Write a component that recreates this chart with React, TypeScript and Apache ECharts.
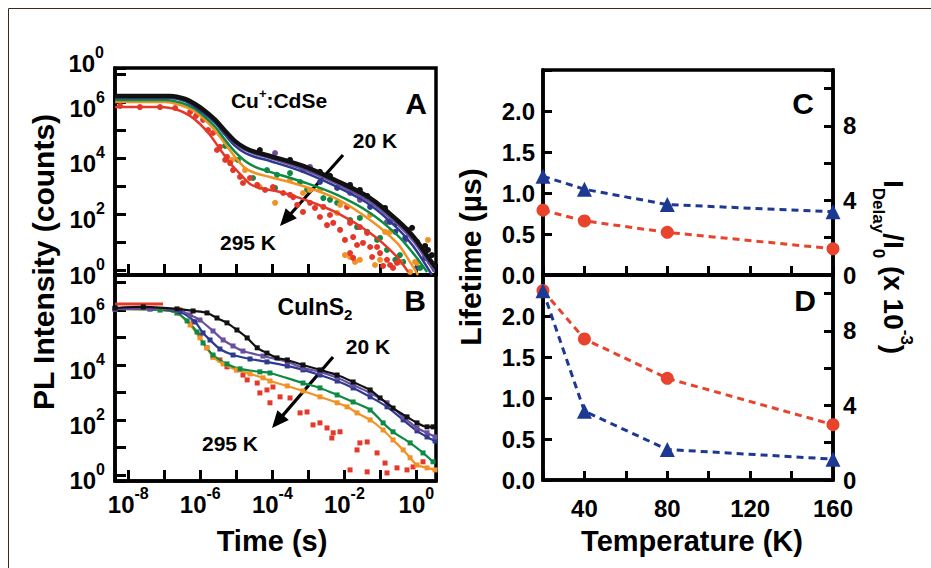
import React, { useEffect, useRef } from 'react';
import * as echarts from 'echarts';

const FONT = '"Liberation Sans", Arial, Helvetica, sans-serif';

// ---------- Panel A: Cu+:CdSe PL decays (time s, counts) ----------
const aFitBlack = [[4.3e-9,1.64e6],[1.44e-7,1.64e6],[3.8e-7,1.28e6],[7.1e-7,8.5e5],[1.35e-6,4.8e5],[2.6e-6,2.3e5],[4.9e-6,9.2e4],[9.2e-6,4.0e4],[1.75e-5,2.3e4],[3.3e-5,1.64e4],[8.6e-5,1.18e4],[7.1e-4,5.2e3],[6.3e-3,1.51e3],[5.2e-2,3.7e2],[0.29,61],[0.81,16],[2.4,2.3],[3.5,1.18]];
const aFitPurple = [[4.3e-9,1.51e6],[1.44e-7,1.51e6],[3.8e-7,1.18e6],[7.1e-7,7.8e5],[1.35e-6,4.4e5],[2.6e-6,2.1e5],[4.9e-6,7.8e4],[9.2e-6,3.4e4],[1.75e-5,1.93e4],[3.3e-5,1.39e4],[8.6e-5,1.0e4],[7.1e-4,4.0e3],[6.3e-3,1.18e3],[5.2e-2,2.7e2],[0.29,44],[0.81,11],[2.4,1.5],[3.1,0.85]];
const aFitBlue = [[4.3e-9,1.39e6],[1.44e-7,1.39e6],[3.8e-7,1.09e6],[7.1e-7,6.6e5],[1.35e-6,3.7e5],[2.6e-6,1.78e5],[4.9e-6,6.6e4],[9.2e-6,2.7e4],[1.75e-5,1.51e4],[3.3e-5,1.09e4],[8.6e-5,7.8e3],[7.1e-4,3.2e3],[6.3e-3,9.2e2],[5.2e-2,2.1e2],[0.29,32],[0.81,7.2],[2.7,0.66]];
const aFitGreen = [[4.3e-9,1.18e6],[1.05e-7,1.18e6],[3.1e-7,9.2e5],[6.3e-7,6.1e5],[1.35e-6,2.9e5],[2.6e-6,1.28e5],[4.9e-6,4.4e4],[9.2e-6,1.64e4],[1.75e-5,7.8e3],[3.3e-5,4.8e3],[8.6e-5,3.2e3],[7.1e-4,1.39e3],[6.3e-3,4.8e2],[5.2e-2,1.09e2],[0.29,18],[0.81,4.0],[1.98,0.85]];
const aFitOrange = [[4.3e-9,1.0e6],[1.05e-7,1.0e6],[2.7e-7,7.8e5],[5.9e-7,5.2e5],[1.35e-6,2.3e5],[2.6e-6,9.2e4],[4.9e-6,3.2e4],[9.2e-6,1.09e4],[1.75e-5,4.4e3],[3.3e-5,2.9e3],[8.6e-5,2.1e3],[7.1e-4,1.0e3],[6.3e-3,3.4e2],[5.2e-2,61],[0.29,9.2],[0.67,1.9],[1.11,0.66]];
const aFitRed = [[4.3e-9,6.6e5],[7.6e-8,6.6e5],[2.4e-7,5.2e5],[5.2e-7,3.2e5],[9.8e-7,1.64e5],[1.86e-6,6.6e4],[3.5e-6,2.1e4],[6.7e-6,6.6e3],[1.27e-5,2.7e3],[2.4e-5,1.18e3],[4.5e-5,8.5e2],[1.64e-4,6.1e2],[7.1e-4,3.4e2],[6.3e-3,1.09e2],[5.2e-2,21],[0.26,3.4],[0.59,0.85]];

const aDotsRed = [[5.9e-9,7.2e5],[2.1e-8,6.6e5],[7.6e-8,6.6e5],[2.0e-7,6.1e5],[5.2e-7,4.4e5],[7.6e-7,3.2e5],[1.19e-6,2.3e5],[1.64e-6,1.0e5],[2.25e-6,7.8e4],[2.9e-6,1.93e4],[3.5e-6,2.5e4],[4.9e-6,8.5e3],[5.5e-6,1.09e4],[6.7e-6,6.6e3],[8.1e-6,3.7e3],[1.27e-5,2.1e3],[1.53e-5,1.28e3],[2.4e-5,1.93e3],[3.8e-5,1.09e3],[6.3e-5,7.2e2],[1.04e-4,9.2e2],[2.0e-4,5.6e2],[3.1e-4,4.8e2],[3.8e-4,4.0e2],[4.9e-4,2.1e2],[7.1e-4,1.18e2],[1.11e-3,2.5e2],[1.53e-3,1.64e2],[2.1e-3,78],[2.6e-3,1.78e2],[3.3e-3,40],[4.0e-3,92],[4.9e-3,48],[7.6e-3,27],[1.04e-2,11.8],[1.19e-2,1.78e2],[1.44e-2,48],[1.44e-2,4.0],[1.75e-2,15],[1.75e-2,2.7],[2.25e-2,7.8],[2.7e-2,34],[3.3e-2,9.2],[4.3e-2,21],[5.2e-2,6.6],[5.9e-2,2.9],[8.1e-2,6.6],[9.8e-2,4.0],[0.119,1.39],[0.153,2.3],[0.186,1.5],[0.225,1.18],[0.29,1.78]];
const aDotsOrange = [[7.6e-6,8.5e3],[1.75e-5,3.7e3],[4.5e-5,9.2e2],[1.19e-4,2.5e2],[3.1e-4,1.64e3],[7.1e-4,5.6e2],[1.11e-3,7.2e2],[2.1e-3,7.2e2],[6.3e-3,1.09e2],[7.6e-3,2.1e2],[1.04e-2,3.4],[1.44e-2,2.9],[1.98e-2,1.93],[2.7e-2,2.3],[5.2e-2,92],[7.1e-2,1.5],[9.8e-2,2.3],[0.135,23],[0.186,23],[0.35,1.93],[0.67,0.85],[0.92,1.93],[1.04,1.78],[2.1,11.8]];
const aDotsGreen = [[4.9e-6,2.7e4],[1.11e-5,8.5e3],[2.9e-5,1.93e3],[7.1e-5,3.7e3],[1.19e-4,8.5e2],[1.35e-4,2.5e3],[3.1e-4,2.9e3],[5.9e-4,1.39e3],[9.2e-4,7.2e2],[2.6e-3,3.7e2],[4.0e-3,3.2e2],[6.3e-3,2.5e2],[1.44e-2,61],[2.25e-2,34],[2.7e-2,72],[4.3e-2,23],[8.1e-2,11.8],[9.8e-2,13.9],[0.153,5.2],[0.26,2.3],[0.35,3.4],[0.43,1.93],[1.27,1.18]];
const aDotsBlue = [[7.1e-4,3.7e3],[2.1e-3,1.39e3],[6.3e-3,8.5e2],[5.2e-2,1.78e2],[0.186,52],[0.26,23],[0.49,13.9],[1.04,1.18],[1.75,2.7]];
const aDotsPurple = [[1.19e-4,1.51e4],[1.11e-3,4.8e3],[1.44e-2,5.6e2],[2.7e-2,3.2e2],[0.153,52],[0.49,11.8],[1.75,3.4],[2.4,1.93]];
const aDotsBlack = [[4.5e-5,1.93e4],[3.1e-4,8.5e3],[2.1e-3,3.2e3],[4.0e-3,2.3e3],[1.44e-2,1.09e3],[2.7e-2,7.2e2],[4.3e-2,4.4e2],[0.135,1.64e2],[0.29,48],[0.55,27],[0.76,32],[1.04,10],[1.75,7.2],[2.1,5.2],[2.7,3.4]];

// ---------- Panel B: CuInS2 PL decays ----------
const bBlack = [[4.3e-9,1.18e6],[2.6e-8,1.29e6],[2.25e-7,1.09e6],[6.3e-7,9.2e5],[1.53e-6,7.8e5],[2.9e-6,5.1e5],[5.5e-6,3.4e5],[1.04e-5,1.87e5],[2.0e-5,9.6e4],[3.8e-5,4.2e4],[7.1e-5,2.7e4],[1.35e-4,1.8e4],[2.6e-4,1.52e4],[7.1e-4,1.0e4],[2.1e-3,6.6e3],[6.3e-3,4.3e3],[1.75e-2,2.4e3],[5.2e-2,1.23e3],[9.8e-2,6.3e2],[0.225,2.7e2],[0.55,1.29e2],[1.04,78],[1.98,56],[2.9,56]];
const bPurple = [[4.3e-9,1.09e6],[4.0e-8,1.09e6],[2.25e-7,1.0e6],[5.2e-7,6.6e5],[9.8e-7,4.3e5],[2.25e-6,1.72e5],[4.3e-6,8.1e4],[8.1e-6,4.9e4],[1.53e-5,3.2e4],[5.5e-5,2.1e4],[2.6e-4,1.29e4],[7.1e-4,7.8e3],[2.1e-3,5.6e3],[6.3e-3,3.4e3],[1.75e-2,1.87e3],[5.2e-2,9.6e2],[0.153,4.2e2],[0.43,1.29e2],[1.04,51],[1.98,34],[3.3,24]];
const bBlue = [[4.3e-9,1.09e6],[4.0e-8,1.09e6],[2.7e-7,8.5e5],[7.1e-7,3.7e5],[1.19e-6,1.46e5],[1.86e-6,8.1e4],[3.5e-6,3.8e4],[8.1e-6,2.3e4],[2.4e-5,1.65e4],[7.1e-5,1.29e4],[2.6e-4,9.2e3],[7.1e-4,6.6e3],[2.1e-3,4.3e3],[6.3e-3,2.6e3],[1.75e-2,1.46e3],[5.2e-2,6.9e2],[0.153,3.0e2],[0.43,1.0e2],[1.04,40],[1.98,24],[3.3,17.2]];
const bGreen = [[4.3e-9,1.09e6],[7.6e-8,1.0e6],[2.25e-7,7.8e5],[4.3e-7,4.0e5],[8.1e-7,1.58e5],[1.19e-6,6.3e4],[2.25e-6,2.3e4],[5.5e-6,1.09e4],[1.27e-5,7.2e3],[4.5e-5,5.6e3],[8.6e-5,5.1e3],[7.1e-4,2.2e3],[2.1e-3,1.46e3],[6.3e-3,8.1e2],[1.75e-2,4.5e2],[5.2e-2,2.3e2],[0.119,78],[0.225,37],[0.67,14.6],[1.53,6.3],[2.9,3.0]];
const bOrange = [[4.3e-9,1.09e6],[7.6e-8,1.0e6],[2.25e-7,7.8e5],[5.2e-7,2.85e5],[9.8e-7,9.6e4],[1.53e-6,4.2e4],[2.25e-6,1.95e4],[4.3e-6,1.09e4],[1.04e-5,6.6e3],[2.4e-5,4.7e3],[5.5e-5,3.4e3],[8.6e-5,2.6e3],[2.6e-4,1.72e3],[7.1e-4,1.13e3],[2.1e-3,6.9e2],[6.3e-3,4.2e2],[1.19e-2,3.0e2],[2.25e-2,1.8e2],[5.2e-2,1.0e2],[0.119,43],[0.225,18.7],[0.43,8.1],[0.67,4.2],[1.04,2.3],[1.98,1.8],[3.3,1.52]];
const bRedPlateau = [[4.3e-9,1.65e6],[2.1e-8,1.65e6],[9.2e-8,1.65e6]];
const bRedDots = [[2.7e-7,1.0e6],[6.3e-7,3.7e5],[9.8e-7,1.23e5],[1.53e-6,4.2e4],[2.25e-6,1.95e4],[3.5e-6,1.52e4],[5.5e-6,8.5e3],[1.04e-5,6.6e3],[1.53e-5,4.3e3],[2.0e-5,2.85e3],[3.8e-5,2.2e3],[7.1e-5,1.23e3],[4.5e-5,9.6e2],[8.6e-5,4.2e2],[1.04e-4,1.58e3],[1.64e-4,6.9e2],[3.1e-4,6.3e2],[5.9e-4,1.8e2],[9.2e-4,1.95e2],[1.35e-3,66],[2.1e-3,78],[3.3e-3,51],[4.9e-3,34],[7.6e-3,37],[4.5e-3,22],[2.7e-2,14.6],[4.3e-2,15.8],[8.1e-2,6.3],[2.25e-2,8.1],[0.135,2.7],[0.29,1.8],[1.44e-2,1.52],[4.3e-2,1.29],[0.153,1.18],[0.55,1.52],[0.81,1.95],[1.53,3.0]];

// ---------- Panels C & D ----------
const temperatures = [20, 40, 80, 160];
const lifetimeCdSe = [0.79, 0.66, 0.52, 0.32];
const delayRatioCdSe = [5.3, 4.6, 3.78, 3.39];
const lifetimeCuInS2 = [2.31, 1.72, 1.24, 0.675];
const delayRatioCuInS2 = [10.15, 3.69, 1.64, 1.12];

const timeRange = [4.27e-9, 3.51];
const aCountRange = [0.66, 1.64e7];
const bCountRange = [0.6, 1.87e7];

const C = {
  black: '#111111', purple: '#6a4fa0', blue: '#2c3a8f', green: '#0d8a45', orange: '#f39224', red: '#e3382a',
  cdRed: '#e8432d', cdBlue: '#1d3893',
};

const expRich = {
  b: { fontSize: 24, fontWeight: 'bold', fontFamily: FONT, color: '#000', lineHeight: 26, padding: [7, 0, 0, 0], verticalAlign: 'top' },
  s: { fontSize: 16, fontWeight: 'bold', fontFamily: FONT, color: '#000', lineHeight: 17, verticalAlign: 'top' },
};

const expFmt = (v: number) => {
  const e = Math.log10(v);
  const n = Math.round(e);
  if (Math.abs(e - n) > 0.02 || n % 2 !== 0) return '';
  return `{b|10}{s|${n}}`;
};

const lineAx = { show: true, onZero: false, lineStyle: { color: '#000', width: 3.5 } };
const tick = (len: number) => ({ show: true, inside: true, length: len, lineStyle: { color: '#000', width: 3 } });
const plainLabel = { fontSize: 24, fontWeight: 'bold', fontFamily: FONT, color: '#000' };

function buildOption() {
  const grids = [
    { left: 115, top: 68, width: 321, height: 207 },
    { left: 115, top: 275, width: 321, height: 206 },
    { left: 543, top: 70, width: 290, height: 205 },
    { left: 543, top: 275, width: 290, height: 205 },
  ].map((g) => ({ ...g, show: true, borderColor: '#000', borderWidth: 3.5, backgroundColor: 'transparent', outerBoundsMode: 'none', containLabel: false }));

  const xAxis = [
    { type: 'log', gridIndex: 0, min: timeRange[0], max: timeRange[1], axisLine: lineAx, axisTick: tick(11), axisLabel: { show: false }, splitLine: { show: false }, minorTick: { show: false } },
    { type: 'log', gridIndex: 1, min: timeRange[0], max: timeRange[1], axisLine: lineAx, axisTick: tick(11), axisLabel: { show: true, margin: 4, formatter: expFmt, rich: expRich }, splitLine: { show: false } },
    { type: 'value', gridIndex: 2, min: 20, max: 160, interval: 20, axisLine: lineAx, axisTick: tick(9), axisLabel: { show: false }, splitLine: { show: false } },
    { type: 'value', gridIndex: 3, min: 20, max: 160, interval: 20, axisLine: lineAx, axisTick: tick(9), axisLabel: { ...plainLabel, margin: 16, formatter: (v: number) => (v % 40 === 0 ? String(v) : '') }, splitLine: { show: false } },
  ];

  const leftFmt = (v: number) => (v > 2.49 ? '' : v.toFixed(1));
  const rightFmt = (v: number) => (v % 4 === 0 && v <= 8 ? String(v) : '');
  const yAxis = [
    { type: 'log', gridIndex: 0, min: aCountRange[0], max: aCountRange[1], axisLine: lineAx, axisTick: tick(11), axisLabel: { margin: 10, formatter: expFmt, rich: expRich }, splitLine: { show: false } },
    { type: 'log', gridIndex: 1, min: bCountRange[0], max: bCountRange[1], axisLine: lineAx, axisTick: tick(11), axisLabel: { margin: 10, formatter: expFmt, rich: expRich }, splitLine: { show: false } },
    { type: 'value', gridIndex: 2, position: 'left', min: 0, max: 2.5, interval: 0.5, axisLine: lineAx, axisTick: tick(9), axisLabel: { ...plainLabel, margin: 8, formatter: leftFmt }, splitLine: { show: false } },
    { type: 'value', gridIndex: 2, position: 'right', min: 0, max: 11, interval: 2, axisLine: lineAx, axisTick: tick(9), axisLabel: { ...plainLabel, margin: 10, formatter: rightFmt }, splitLine: { show: false } },
    { type: 'value', gridIndex: 3, position: 'left', min: 0, max: 2.5, interval: 0.5, axisLine: lineAx, axisTick: tick(9), axisLabel: { ...plainLabel, margin: 8, formatter: leftFmt }, splitLine: { show: false } },
    { type: 'value', gridIndex: 3, position: 'right', min: 0, max: 11, interval: 2, axisLine: lineAx, axisTick: tick(9), axisLabel: { ...plainLabel, margin: 10, formatter: rightFmt }, splitLine: { show: false } },
  ];

  const dots = (data: number[][], color: string) => ({
    type: 'scatter', xAxisIndex: 0, yAxisIndex: 0, data, symbol: 'circle', symbolSize: 6, itemStyle: { color, opacity: 1 }, z: 2, silent: true,
  });
  const fit = (data: number[][], color: string, width = 2.5, z = 3) => ({
    type: 'line', xAxisIndex: 0, yAxisIndex: 0, data, smooth: 0.35, symbol: 'none', lineStyle: { color, width }, z, silent: true,
  });
  const bandB = (data: number[][], color: string, z = 3) => ({
    type: 'line', xAxisIndex: 1, yAxisIndex: 1, data, smooth: 0.3, symbol: 'rect', symbolSize: 5, showSymbol: true,
    itemStyle: { color, opacity: 1 }, lineStyle: { color, width: 2.2 }, z, silent: true,
  });
  const pair = (temps: number[], vals: number[]) => temps.map((t, i) => [t, vals[i]]);
  const dashed = (data: number[][], color: string, x: number, y: number, symbol: string, size: number) => ({
    type: 'line', xAxisIndex: x, yAxisIndex: y, data, symbol, symbolSize: size, showSymbol: true,
    itemStyle: { color, opacity: 1 }, lineStyle: { color, width: 3, type: [7, 5] }, z: 3, silent: true,
  });

  const series = [
    dots(aDotsBlack, C.black), dots(aDotsPurple, C.purple), dots(aDotsBlue, C.blue),
    dots(aDotsGreen, C.green), dots(aDotsOrange, C.orange), dots(aDotsRed, C.red),
    fit(aFitRed, C.red), fit(aFitOrange, C.orange), fit(aFitGreen, C.green),
    fit(aFitBlue, C.blue), fit(aFitPurple, C.purple), fit(aFitBlack, C.black, 4.5, 4),
    { type: 'line', xAxisIndex: 1, yAxisIndex: 1, data: bRedPlateau, symbol: 'none', lineStyle: { color: C.red, width: 3 }, z: 2, silent: true },
    { type: 'scatter', xAxisIndex: 1, yAxisIndex: 1, data: bRedDots, symbol: 'rect', symbolSize: 5, itemStyle: { color: C.red, opacity: 1 }, z: 2, silent: true },
    bandB(bOrange, C.orange), bandB(bGreen, C.green), bandB(bBlue, C.blue), bandB(bPurple, C.purple), bandB(bBlack, C.black, 4),
    dashed(pair(temperatures, lifetimeCdSe), C.cdRed, 2, 2, 'circle', 13),
    dashed(pair(temperatures, delayRatioCdSe), C.cdBlue, 2, 3, 'triangle', 15),
    dashed(pair(temperatures, lifetimeCuInS2), C.cdRed, 3, 4, 'circle', 13),
    dashed(pair(temperatures, delayRatioCuInS2), C.cdBlue, 3, 5, 'triangle', 15),
  ];

  const txt = (x: number, y: number, text: string, size: number, extra: any = {}) => ({
    type: 'text', x, y, silent: true, ...extra,
    style: { text, fontSize: size, fontWeight: 'bold', fontFamily: FONT, fill: '#000', align: 'center', verticalAlign: 'middle', ...(extra.style || {}) },
  });
  const ltxt = (x: number, y: number, text: string, size: number) => ({
    type: 'text', x, y, silent: true,
    style: { text, fontSize: size, fontWeight: 'bold', fontFamily: FONT, fill: '#000', align: 'left', verticalAlign: 'middle' },
  });
  const arrow = (x1: number, y1: number, tx: number, ty: number) => {
    const dx = tx - x1, dy = ty - y1;
    const L = Math.hypot(dx, dy);
    const ux = dx / L, uy = dy / L;
    const bx = tx - 17 * ux, by = ty - 17 * uy;
    const px = -uy * 7.5, py = ux * 7.5;
    return [
      { type: 'line', silent: true, shape: { x1, y1, x2: bx + 2 * ux, y2: by + 2 * uy }, style: { stroke: '#000', lineWidth: 3.2 } },
      { type: 'polygon', silent: true, shape: { points: [[tx, ty], [bx + px, by + py], [bx - px, by - py]] }, style: { fill: '#000' } },
    ];
  };

  const rb = (size: number, extra: any = {}) => ({ fontSize: size, fontWeight: 'bold', fontFamily: FONT, color: '#000', ...extra });

  // I_Delay / I_0 (x 10^-3) label, built from pieces in a rotated group
  const m = 28, sm = 17;
  const wMain = (s: string) => s.split('').reduce((a, ch) => a + ({ I: 0.278, '/': 0.278, ' ': 0.278, '(': 0.333, ')': 0.333, x: 0.556, '1': 0.556, '0': 0.556 } as any)[ch] * m, 0);
  const pieces: any[] = [];
  let cx = -90;
  const add = (s: string, kind: 'm' | 'sb' | 'sp', w: number) => {
    const y = kind === 'm' ? 0 : kind === 'sb' ? 15 : -13;
    pieces.push(ltxt(cx, y, s, kind === 'm' ? m : sm));
    cx += w;
  };
  add('I', 'm', wMain('I'));
  add('Delay', 'sb', 2.668 * sm);
  add('/I', 'm', wMain('/I'));
  add('0', 'sb', 0.556 * sm);
  add(' (x 10', 'm', wMain(' (x 10'));
  add('-3', 'sp', 0.889 * sm);
  add(')', 'm', wMain(')'));

  const graphic = [
    { type: 'line', silent: true, shape: { x1: 8.5, y1: 8.5, x2: 931, y2: 8.5 }, style: { stroke: '#3a2a1e', lineWidth: 1 } },
    { type: 'line', silent: true, shape: { x1: 8.5, y1: 8.5, x2: 8.5, y2: 568 }, style: { stroke: '#3a2a1e', lineWidth: 1 } },
    // stray top label
    { type: 'text', x: 104, y: 57, silent: true, style: { text: '{b|10}{s|0}', rich: expRich, align: 'right', verticalAlign: 'middle' } },
    // axis titles
    txt(43, 262, 'PL Intensity (counts)', 30, { rotation: Math.PI / 2 }),
    txt(272, 541, 'Time (s)', 29),
    txt(470, 257, 'Lifetime (\u00b5s)', 30, { rotation: Math.PI / 2 }),
    txt(692, 541, 'Temperature (K)', 29),
    { type: 'group', x: 893, y: 270, rotation: -Math.PI / 2, children: pieces },
    // panel letters
    txt(416, 103, 'A', 30), txt(415, 300, 'B', 30), txt(803, 103, 'C', 30), txt(805, 300, 'D', 30),
    // sample names
    {
      type: 'text', x: 279, y: 98.5, silent: true,
      style: {
        text: '{n|Cu}{p|+}{n|:CdSe}', align: 'center', verticalAlign: 'middle',
        rich: { n: rb(21, { lineHeight: 24, padding: [3, 0, 0, 0], verticalAlign: 'top' }), p: rb(13, { lineHeight: 14, verticalAlign: 'top' }) },
      },
    },
    {
      type: 'text', x: 315, y: 308.5, silent: true,
      style: {
        text: '{n|CuInS}{u|2}', align: 'center', verticalAlign: 'middle',
        rich: { n: rb(23, { lineHeight: 26, verticalAlign: 'top' }), u: rb(15, { lineHeight: 16, padding: [15, 0, 0, 0], verticalAlign: 'bottom' }) },
      },
    },
    // temperature annotations + arrows
    txt(375, 140, '20 K', 21), txt(248, 242, '295 K', 21),
    txt(368, 346, '20 K', 21), txt(230, 443, '295 K', 21),
    ...arrow(343, 155, 280, 226),
    ...arrow(333, 357, 272, 428),
  ];

  return { animation: false, backgroundColor: '#fff', grid: grids, xAxis, yAxis, series, graphic };
}

export default function App() {
  const ref = useRef<HTMLDivElement>(null);
  useEffect(() => {
    if (!ref.current) return;
    const chart = echarts.init(ref.current, null, { renderer: 'svg' });
    chart.setOption(buildOption() as any);
    return () => chart.dispose();
  }, []);
  return <div ref={ref} style={{ position: 'fixed', left: 0, top: 0, width: 931, height: 568, background: '#fff' }} />;
}
